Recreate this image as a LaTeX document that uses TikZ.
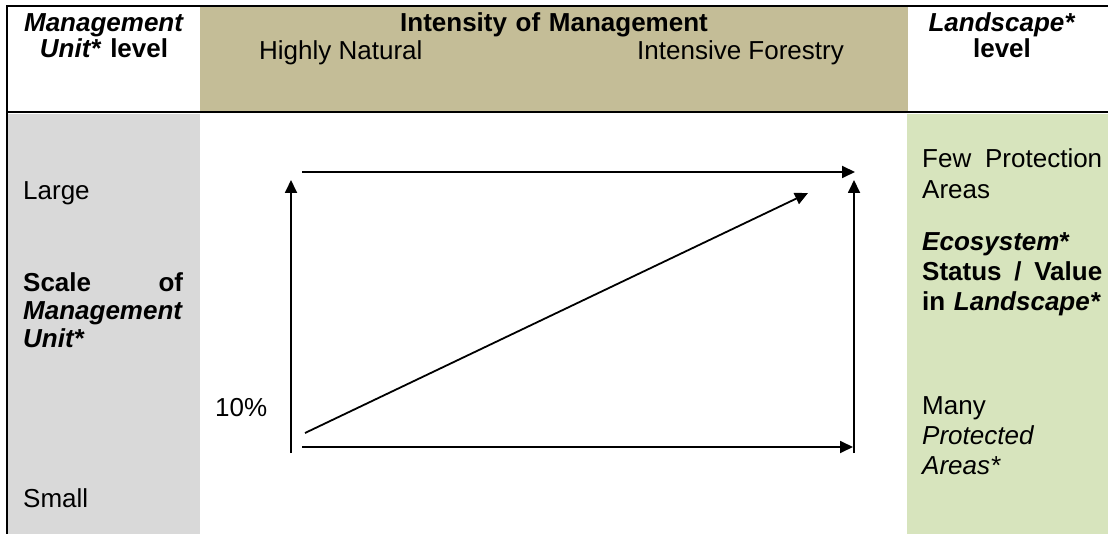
\documentclass[tikz,border=0pt]{standalone}
\usepackage{fontspec}
\setmainfont{Liberation Sans}
\usepackage{tikz}
\usetikzlibrary{positioning, arrows.meta, calc}

\definecolor{headtan}{HTML}{C4BD97}
\definecolor{unitgray}{HTML}{D9D9D9}
\definecolor{landgreen}{HTML}{D7E4BD}
\newcommand{\bfit}[1]{\textbf{\textit{#1}}}

\begin{document}
\begin{tikzpicture}[
    x=1pt, y=-1pt,
    txt/.style={inner sep=0pt, anchor=base west, font=\fontsize{26}{30}\selectfont},
    block/.style={txt, text width=#1, align=left},
    headtxt/.style={txt, anchor=base, text width=#1, align=center},
    rule/.style={line width=2.4pt},
    arrow/.style={-{Triangle[length=13pt,width=12pt]}, line width=1.8pt},
]
\useasboundingbox (0,0) rectangle (1108,534);

% Column fills
\fill[headtan] (200,7) rectangle (908,111);
\fill[unitgray] (8,114) rectangle (200,534);
\fill[landgreen] (907,114) rectangle (1108,534);

% Table rules
\draw[rule] (6,6) -- (1108,6);
\draw[rule] (7,6) -- (7,534);
\draw[rule] (7,112) -- (1108,112);

% Header row
\node[headtxt=193pt, font=\fontsize{26}{24}\selectfont] (unithead) at (104,32) {\bfit{Management}\\\bfit{Unit*} \textbf{level}};
\node[headtxt=700pt] (intensity) at (554,32) {\textbf{Intensity of Management}};
\node[txt] (natural) at (259,60) {Highly Natural};
\node[txt] (forestry) at (637,60) {Intensive Forestry};
\node[headtxt=200pt, font=\fontsize{26}{24}\selectfont] (landhead) at (1002,32) {\bfit{Landscape*}\\\textbf{level}};

% Management unit column
\node[txt] (large) at (23,200) {Large};
\node[block=160pt, font=\fontsize{26}{28}\selectfont] (scale) at (23,292) {\textbf{Scale}\hfill\textbf{of}\\\bfit{Management}\\\bfit{Unit*}};
\node[txt] (small) at (23,507) {Small};
\node[txt] (pct) at (215,416) {10\%};

% Landscape column
\node[block=180pt, font=\fontsize{26}{31}\selectfont] (few) at (922,168) {Few\hfill Protection\\Areas};
\node[block=180pt] (status) at (922,251) {\bfit{Ecosystem}\textbf{*}\\\textbf{Status}\hfill\textbf{/}\hfill\textbf{Value}\\\textbf{in} \bfit{Landscape*}};
\node[block=180pt] (many) at (922,414) {Many\\\textit{Protected}\\\textit{Areas*}};

% Arrow ends
\coordinate (lbot) at (291,453);
\coordinate (ltop) at (291,180);
\coordinate (rbot) at (854,453);
\coordinate (rtop) at (854,180);
\coordinate (tstart) at (302,172);
\coordinate (tend) at (855,172);
\coordinate (bstart) at (302,447);
\coordinate (bend) at (853,447);
\coordinate (dstart) at (305,433);
\coordinate (dend) at (808,193);

% Arrows
\draw[arrow] (lbot) -- (ltop);
\draw[arrow] (rbot) -- (rtop);
\draw[arrow] (tstart) -- (tend);
\draw[arrow] (bstart) -- (bend);
\draw[arrow] (dstart) -- (dend);

\end{tikzpicture}
\end{document}
